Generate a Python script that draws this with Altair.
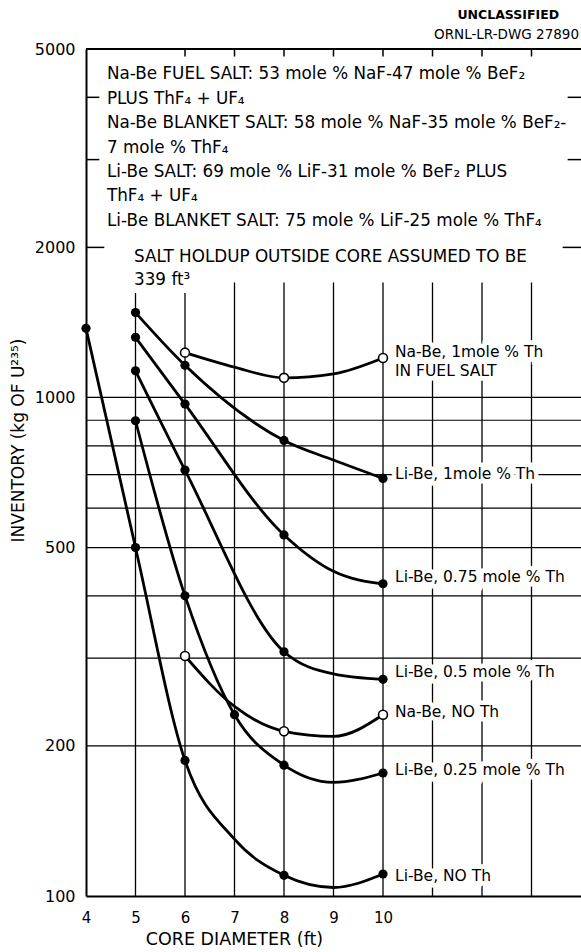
import altair as alt
import pandas as pd

FONT = "DejaVu Sans"

# ---- data (core diameter ft, inventory kg U-235) ----
li_none_x = [4, 5, 6, 8, 10]
li_none_y = [1376, 500, 187, 110, 110.7]
li_025_x = [5, 6, 7, 8, 10]
li_025_y = [898, 400, 231, 183, 176.5]
li_05_x = [5, 6, 8, 10]
li_05_y = [1131, 715, 309, 272]
li_075_x = [5, 6, 8, 10]
li_075_y = [1320, 970, 530, 423]
li_1_x = [5, 6, 8, 10]
li_1_y = [1480, 1160, 820, 688]
na_1_x = [6, 8, 10]
na_1_y = [1230, 1095, 1200]
na_none_x = [6, 8, 10]
na_none_y = [303, 214, 231]

# extra readings taken off the drawn curves between the plotted points
li_none_cx = [7, 9]
li_none_cy = [130, 104]
li_025_cx = [9]
li_025_cy = [169]
li_05_cx = [9]
li_05_cy = [279]
li_075_cx = [9]
li_075_cy = [448]
li_1_cx = [9]
li_1_cy = [749]
na_1_cx = [7, 9]
na_1_cy = [1150, 1115]
na_none_cx = [7, 9]
na_none_cy = [240, 209]

series_names = ["Li-Be NO Th", "Li-Be 0.25", "Li-Be 0.5", "Li-Be 0.75",
                "Li-Be 1", "Na-Be 1", "Na-Be NO Th"]
series_filled = [True, True, True, True, True, False, False]

label_texts = ["Na-Be, 1mole % Th", "IN FUEL SALT", "Li-Be, 1mole % Th",
               "Li-Be, 0.75 mole % Th", "Li-Be, 0.5 mole % Th", "Na-Be,  NO  Th",
               "Li-Be, 0.25 mole % Th", "Li-Be, NO Th"]
label_y = [1235, 1131, 702, 437, 282, 233.6, 179, 109.7]
label_x = 10

header_lines = [
    "Na-Be FUEL SALT: 53 mole % NaF-47 mole % BeF₂",
    "PLUS  ThF₄ + UF₄",
    "Na-Be BLANKET SALT: 58 mole % NaF-35 mole % BeF₂-",
    "7 mole % ThF₄",
    "Li-Be SALT: 69 mole % LiF-31 mole % BeF₂  PLUS",
    "ThF₄ + UF₄",
    "Li-Be BLANKET SALT: 75 mole % LiF-25 mole % ThF₄",
]
holdup_lines = ["SALT HOLDUP OUTSIDE CORE ASSUMED TO BE", "339 ft³"]

h_grid = [200, 300, 400, 500, 600, 700, 800, 900, 1000]
v_grid = [5, 6, 7, 8, 9, 10, 11, 12, 13]
v_grid_top = [1620, 1620, 1700, 1700, 1700, 1700, 1700, 1700, 1700]
top_ticks = [6, 7, 8, 9, 10, 11, 12, 13]
side_ticks = [2000, 3000, 4000]
side_tick_len = [0.37, 0.27, 0.27]

x_ticks = [4, 5, 6, 7, 8, 9, 10]
y_ticks = [100, 200, 500, 1000, 2000, 5000]

# ---- build tables ----
mx = [li_none_x, li_025_x, li_05_x, li_075_x, li_1_x, na_1_x, na_none_x]
my = [li_none_y, li_025_y, li_05_y, li_075_y, li_1_y, na_1_y, na_none_y]
cx = [li_none_cx, li_025_cx, li_05_cx, li_075_cx, li_1_cx, na_1_cx, na_none_cx]
cy = [li_none_cy, li_025_cy, li_05_cy, li_075_cy, li_1_cy, na_1_cy, na_none_cy]

pts, crv = [], []
for name, f, xs_, ys_, cxs, cys in zip(series_names, series_filled, mx, my, cx, cy):
    for a, b in zip(xs_, ys_):
        pts.append({"s": name, "x": a, "y": b, "filled": f})
        crv.append({"s": name, "x": a, "y": b})
    for a, b in zip(cxs, cys):
        crv.append({"s": name, "x": a, "y": b})
pts = pd.DataFrame(pts)
crv = pd.DataFrame(crv).sort_values(["s", "x"])

xscale = alt.Scale(domain=[4, 14], nice=False, zero=False)
yscale = alt.Scale(type="log", domain=[100, 5000], nice=False)

X_axis = alt.Axis(values=x_ticks, ticks=False, tickSize=0, grid=False,
                  domainColor="black", domainWidth=2,
                  labelFont=FONT, labelFontSize=15, labelColor="black",
                  labelPadding=14, labelFlush=False,
                  title="CORE DIAMETER (ft)", titleFont=FONT, titleFontSize=17.5,
                  titleFontWeight="normal", titleColor="black",
                  titleX=148, titleY=43, titleAlign="center", titleBaseline="middle")
Y_axis = alt.Axis(values=y_ticks, ticks=False, tickSize=0, grid=False,
                  domainColor="black", domainWidth=2, format="d",
                  labelFont=FONT, labelFontSize=16, labelColor="black",
                  labelPadding=11, labelFlush=False,
                  title="INVENTORY (kg OF U²³⁵)", titleFont=FONT, titleFontSize=17,
                  titleFontWeight="normal", titleColor="black",
                  titleX=-68, titleY=391, titleAngle=270,
                  titleAlign="center", titleBaseline="middle")

def X(field="x"):
    return alt.X(f"{field}:Q", scale=xscale, axis=X_axis)

def Y(field="y"):
    return alt.Y(f"{field}:Q", scale=yscale, axis=Y_axis)

# horizontal grid
hg = pd.DataFrame({"y": h_grid, "x": 4, "x2": 14})
hgrid = alt.Chart(hg).mark_rule(color="black", strokeWidth=1.2).encode(
    x=X(), x2="x2:Q", y=Y())

vg = pd.DataFrame({"x": v_grid, "y": 100, "y2": v_grid_top})
vgrid = alt.Chart(vg).mark_rule(color="black", strokeWidth=1.3).encode(
    x=X(), y=Y(), y2="y2:Q")

tt = pd.DataFrame({"x": top_ticks, "y": 5000, "y2": 4830})
tticks = alt.Chart(tt).mark_rule(color="black", strokeWidth=1.5).encode(
    x=X(), y=Y(), y2="y2:Q")

lt = pd.DataFrame({"y": side_ticks, "x": 4, "x2": [4 + v for v in side_tick_len]})
lticks = alt.Chart(lt).mark_rule(color="black", strokeWidth=1.5).encode(
    x=X(), x2="x2:Q", y=Y())
rt = pd.DataFrame({"y": side_ticks, "x": 14, "x2": [14 - v for v in side_tick_len]})
rticks = alt.Chart(rt).mark_rule(color="black", strokeWidth=1.5).encode(
    x=X(), x2="x2:Q", y=Y())

topline = alt.Chart(pd.DataFrame({"y": [5000], "x": [4], "x2": [14]})).mark_rule(
    color="black", strokeWidth=2).encode(x=X(), x2="x2:Q", y=Y())

curves = alt.Chart(crv).mark_line(color="black", strokeWidth=2.8,
                                  interpolate="monotone").encode(
    x=X(), y=Y(), detail="s:N", order="x:Q")

lab = pd.DataFrame({"t": label_texts, "y": label_y, "x": label_x})
lab_halo = alt.Chart(lab).mark_text(align="left", baseline="middle", dx=12,
                                    font=FONT, fontSize=15.5, color="white",
                                    stroke="white", strokeWidth=9).encode(
    x=X(), y=Y(), text="t:N")
lab_text = alt.Chart(lab).mark_text(align="left", baseline="middle", dx=12,
                                    font=FONT, fontSize=15.5, color="black").encode(
    x=X(), y=Y(), text="t:N")

filled = alt.Chart(pts[pts.filled]).mark_point(
    shape="circle", filled=True, color="black", size=85, opacity=1).encode(x=X(), y=Y())
hollow = alt.Chart(pts[~pts.filled]).mark_point(
    shape="circle", filled=True, fill="white", stroke="black", strokeWidth=1.6,
    size=80, opacity=1).encode(x=X(), y=Y())

hdr = pd.DataFrame({"t": ["\n".join(header_lines)], "x": [4.424], "y": [4345]})
header = alt.Chart(hdr).mark_text(align="left", baseline="alphabetic", lineBreak="\n",
                                  lineHeight=24.4, font=FONT, fontSize=16.8,
                                  color="black").encode(x=X(), y=Y(), text="t:N")
hd2 = pd.DataFrame({"t": ["\n".join(holdup_lines)], "x": [4.97], "y": [1872]})
holdup = alt.Chart(hd2).mark_text(align="left", baseline="alphabetic", lineBreak="\n",
                                  lineHeight=23.5, font=FONT, fontSize=16.8,
                                  color="black").encode(x=X(), y=Y(), text="t:N")

stamp = pd.DataFrame({"t": ["UNCLASSIFIED", "ORNL-LR-DWG 27890"],
                      "x": [12.53, 14], "y": [5848, 5333]})
stamp1 = alt.Chart(stamp.iloc[[0]]).mark_text(align="center", baseline="middle",
                                              font=FONT, fontSize=12.5, fontWeight="bold",
                                              color="black").encode(x=X(), y=Y(), text="t:N")
stamp2 = alt.Chart(stamp.iloc[[1]]).mark_text(align="right", baseline="middle", dx=-2,
                                              font=FONT, fontSize=13.5,
                                              color="black").encode(x=X(), y=Y(), text="t:N")

chart = alt.layer(hgrid, vgrid, tticks, lticks, rticks, topline, curves,
                  lab_halo, lab_text, filled, hollow, header, holdup, stamp1, stamp2
                  ).properties(
    width=495, height=847,
    autosize=alt.AutoSizeParams(type="none"),
    padding={"left": 86, "top": 49, "right": 0, "bottom": 56},
    background="white",
).configure_view(stroke=None)

chart.save("out.html", embed_options={"renderer": "svg", "actions": False})
